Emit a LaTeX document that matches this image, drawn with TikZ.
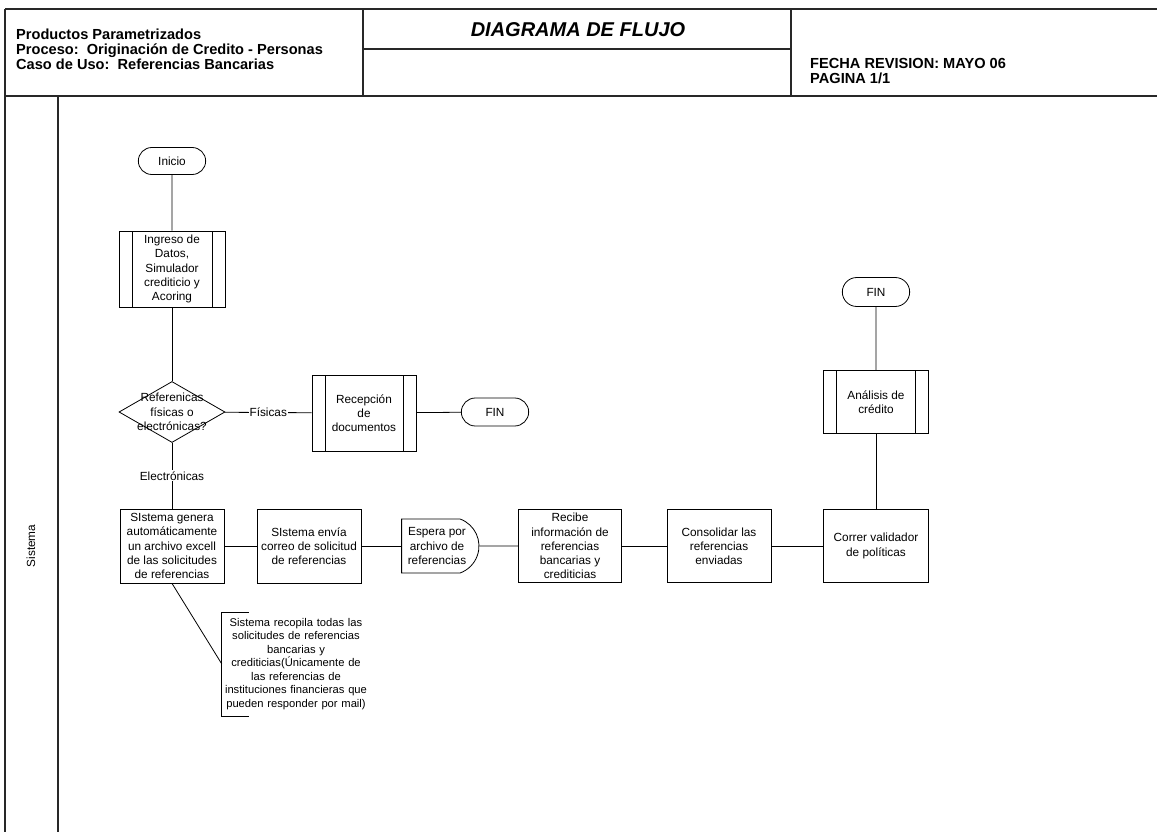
\documentclass[tikz,border=0pt]{standalone}
\usepackage{fontspec}
\setmainfont{Liberation Sans}
\usepackage{tikz}
\usetikzlibrary{shapes,arrows,positioning,calc}
\definecolor{FrameGray}{RGB}{40, 40, 40}
\tikzstyle{frame} = [line width=1.6pt, draw=FrameGray]
\tikzstyle{term} = [rounded rectangle, minimum width=74pt, minimum height=27pt, text centered, draw, line width=0.8pt, font=\fontsize{11.8}{14.2}\selectfont]
\tikzstyle{process} = [rectangle, minimum width=104pt, minimum height=74pt, align=center, draw, line width=0.8pt, font=\fontsize{11.8}{14.2}\selectfont]
\tikzstyle{subproc} = [rectangle, minimum width=106pt, minimum height=76pt, align=center, draw, line width=0.8pt, font=\fontsize{11.8}{14.2}\selectfont,
  path picture={\draw[line width=0.8pt] ([xshift=13pt]path picture bounding box.north west) -- ([xshift=13pt]path picture bounding box.south west);
    \draw[line width=0.8pt] ([xshift=-13pt]path picture bounding box.north east) -- ([xshift=-13pt]path picture bounding box.south east);}]
\tikzstyle{decision} = [diamond, minimum width=106pt, minimum height=61pt, inner sep=0pt, draw, line width=0.8pt]
\tikzstyle{delay} = [rounded rectangle, rounded rectangle west arc=none, rounded rectangle arc length=140, minimum width=84pt, minimum height=54pt, align=center, draw, line width=0.8pt, font=\fontsize{11.8}{14.2}\selectfont]
\tikzstyle{lbl} = [fill=white, inner sep=1pt, font=\fontsize{11.8}{14.2}\selectfont]
\tikzstyle{link} = [line width=0.8pt]
\tikzstyle{hdr} = [inner sep=0pt, align=left, font=\fontsize{14.6}{15}\selectfont\bfseries]

\begin{document}
\begin{tikzpicture}[x=1pt, y=-1pt]
\useasboundingbox (0,0) rectangle (1157,832);

% Encabezado
\draw [frame] (5,9) -- (1157,9);
\draw [frame] (5,96) -- (1157,96);
\draw [frame] (5,9) -- (5,832);
\draw [frame] (363,9) -- (363,96);
\draw [frame] (791,9) -- (791,96);
\draw [frame] (363,49) -- (791,49);
\draw [frame] (58,96) -- (58,832);

\node (producto) [hdr, anchor=west] at (16,49) {Productos Parametrizados\\Proceso:\ \ Originación de Credito - Personas\\Caso de Uso:\ \ Referencias Bancarias};
\node (titulo) [inner sep=0pt, font=\fontsize{20}{22}\selectfont\bfseries\itshape] at (578,30) {DIAGRAMA DE FLUJO};
\node (fecha) [hdr, anchor=west] at (810,71) {FECHA REVISION: MAYO 06\\PAGINA 1/1};

% Carril
\node (carril) [rotate=90, font=\fontsize{11.8}{14}\selectfont] at (31,546) {Sistema};

% Inicio y datos
\node (inicio) [term] at (172,161) {Inicio};
\node (ingreso) [subproc] at (172,269) {Ingreso de\\Datos,\\Simulador\\crediticio y\\Acoring};
\node (tipo) [decision, label={[align=center, font=\fontsize{11.8}{14.5}\selectfont]center:Referenicas\\físicas o\\electrónicas?}] at (172,412) {};

% Rama física
\node (recepcion) [subproc, minimum width=104pt] at (364,413) {Recepción\\de\\documentos};
\node (fin1) [term, minimum height=28pt] at (495,412) {FIN};

% Rama electrónica
\node (genera) [process] at (172,546) {SIstema genera\\automáticamente\\un archivo excell\\de las solicitudes\\de referencias};
\node (envia) [process] at (309,546) {SIstema envía\\correo de solicitud\\de referencias};
\node (espera) [delay] at (437,546) {Espera por\\archivo de\\referencias};
\node (recibe) [process, minimum height=73pt, minimum width=103pt] at (570,546) {Recibe\\información de\\referencias\\bancarias y\\crediticias};
\node (consolidar) [process, minimum height=73pt] at (719,546) {Consolidar las\\referencias\\enviadas};
\node (correr) [process, minimum height=73pt, minimum width=105pt] at (876,546) {Correr validador\\de políticas};
\node (analisis) [subproc, minimum width=105pt, minimum height=63pt] at (876,402) {Análisis de\\crédito};
\node (fin2) [term, minimum height=29pt] at (876,292) {FIN};

% Nota
\node (nota) [align=center, text width=142pt, inner xsep=3pt, inner ysep=6pt, font=\fontsize{11.2}{13.5}\selectfont] at (296,664) {Sistema recopila todas las\\solicitudes de referencias\\bancarias y\\crediticias(Únicamente de\\las referencias de\\instituciones financieras que\\pueden responder por mail)};
\draw [link] ([xshift=27pt]nota.north west) -- (nota.north west) -- (nota.south west) -- ([xshift=27pt]nota.south west);

% Conectores
\draw [link] (inicio) -- (ingreso);
\draw [link] (ingreso) -- (tipo);
\draw [link] (tipo) -- node[lbl] {Físicas} (recepcion);
\draw [link] (recepcion) -- (fin1);
\draw [link] (tipo) -- node[lbl] {Electrónicas} (genera);
\draw [link] (genera) -- (envia);
\draw [link] (envia) -- (espera);
\draw [link] (espera) -- (recibe);
\draw [link] (recibe) -- (consolidar);
\draw [link] (consolidar) -- (correr);
\draw [link] (correr) -- (analisis);
\draw [link] (analisis) -- (fin2);
\draw [link] (genera.south) -- (nota.west);

\end{tikzpicture}
\end{document}
